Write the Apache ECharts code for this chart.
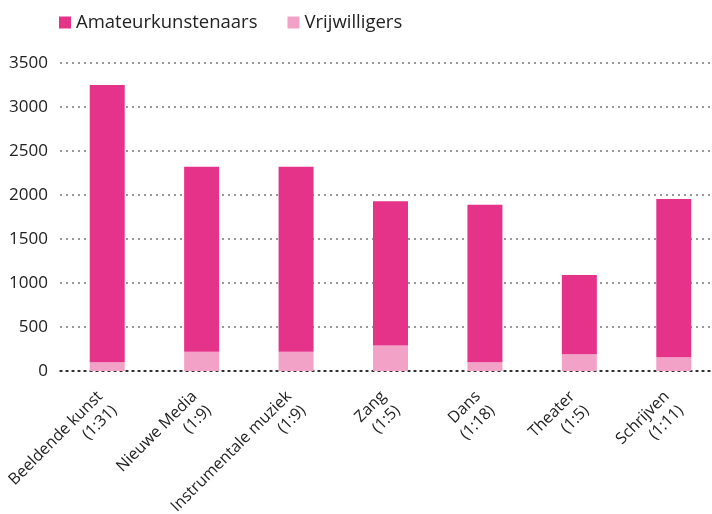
<!DOCTYPE html>
<html>
<head>
<meta charset="utf-8">
<script src="https://cdn.jsdelivr.net/npm/echarts@6/dist/echarts.min.js"></script>
<style>
html,body{margin:0;padding:0;background:#fff;}
#chart{width:712px;height:514px;}
</style>
</head>
<body>
<div id="chart"></div>
<script>
var categories = ['Beeldende kunst\n(1:31)', 'Nieuwe Media\n(1:9)', 'Instrumentale muziek\n(1:9)', 'Zang\n(1:5)', 'Dans\n(1:18)', 'Theater\n(1:5)', 'Schrijven\n(1:11)'];
var vrijwilligers = [100, 220, 220, 290, 100, 190, 155];
var amateurkunstenaars = [3150, 2100, 2100, 1640, 1790, 900, 1800];
var yTicks = [0, 500, 1000, 1500, 2000, 2500, 3000, 3500];

var FONT = 'Open Sans';
var chart = echarts.init(document.getElementById('chart'), null, {renderer: 'canvas'});
chart.setOption({
  animation: false,
  textStyle: {fontFamily: FONT, color: '#222'},
  legend: {
    left: 54, top: 8,
    itemWidth: 12, itemHeight: 12, itemGap: 30,
    icon: 'rect',
    textStyle: {fontFamily: FONT, fontSize: 18.5, color: '#222'},
    data: ['Amateurkunstenaars', 'Vrijwilligers']
  },
  grid: {left: 60, right: -9, top: 63, bottom: 143, containLabel: false, outerBoundsMode: 'none'},
  xAxis: {
    type: 'category',
    data: categories,
    axisTick: {show: false},
    axisLine: {show: true, lineStyle: {color: '#111', type: [2, 4], width: 1.5}},
    axisLabel: {rotate: 45, margin: 30, fontSize: 16, fontFamily: FONT, color: '#222', lineHeight: 20, interval: 0}
  },
  yAxis: {
    type: 'value',
    min: 0, max: 3500, interval: 500,
    axisLine: {show: false},
    axisTick: {show: false},
    axisLabel: {
      fontSize: 17, fontFamily: FONT, color: '#222', margin: 12,
      formatter: function (v) { return yTicks.indexOf(v) >= 0 ? String(v) : ''; }
    },
    splitLine: {show: true, lineStyle: {color: '#777', type: [2, 4], width: 1.5}}
  },
  series: [
    {
      name: 'Vrijwilligers', type: 'bar', stack: 'tot',
      data: vrijwilligers, barWidth: 35,
      itemStyle: {color: '#F3A2C7'}
    },
    {
      name: 'Amateurkunstenaars', type: 'bar', stack: 'tot',
      data: amateurkunstenaars, barWidth: 35,
      itemStyle: {color: '#E5338A'}
    }
  ]
});
</script>
</body>
</html>
